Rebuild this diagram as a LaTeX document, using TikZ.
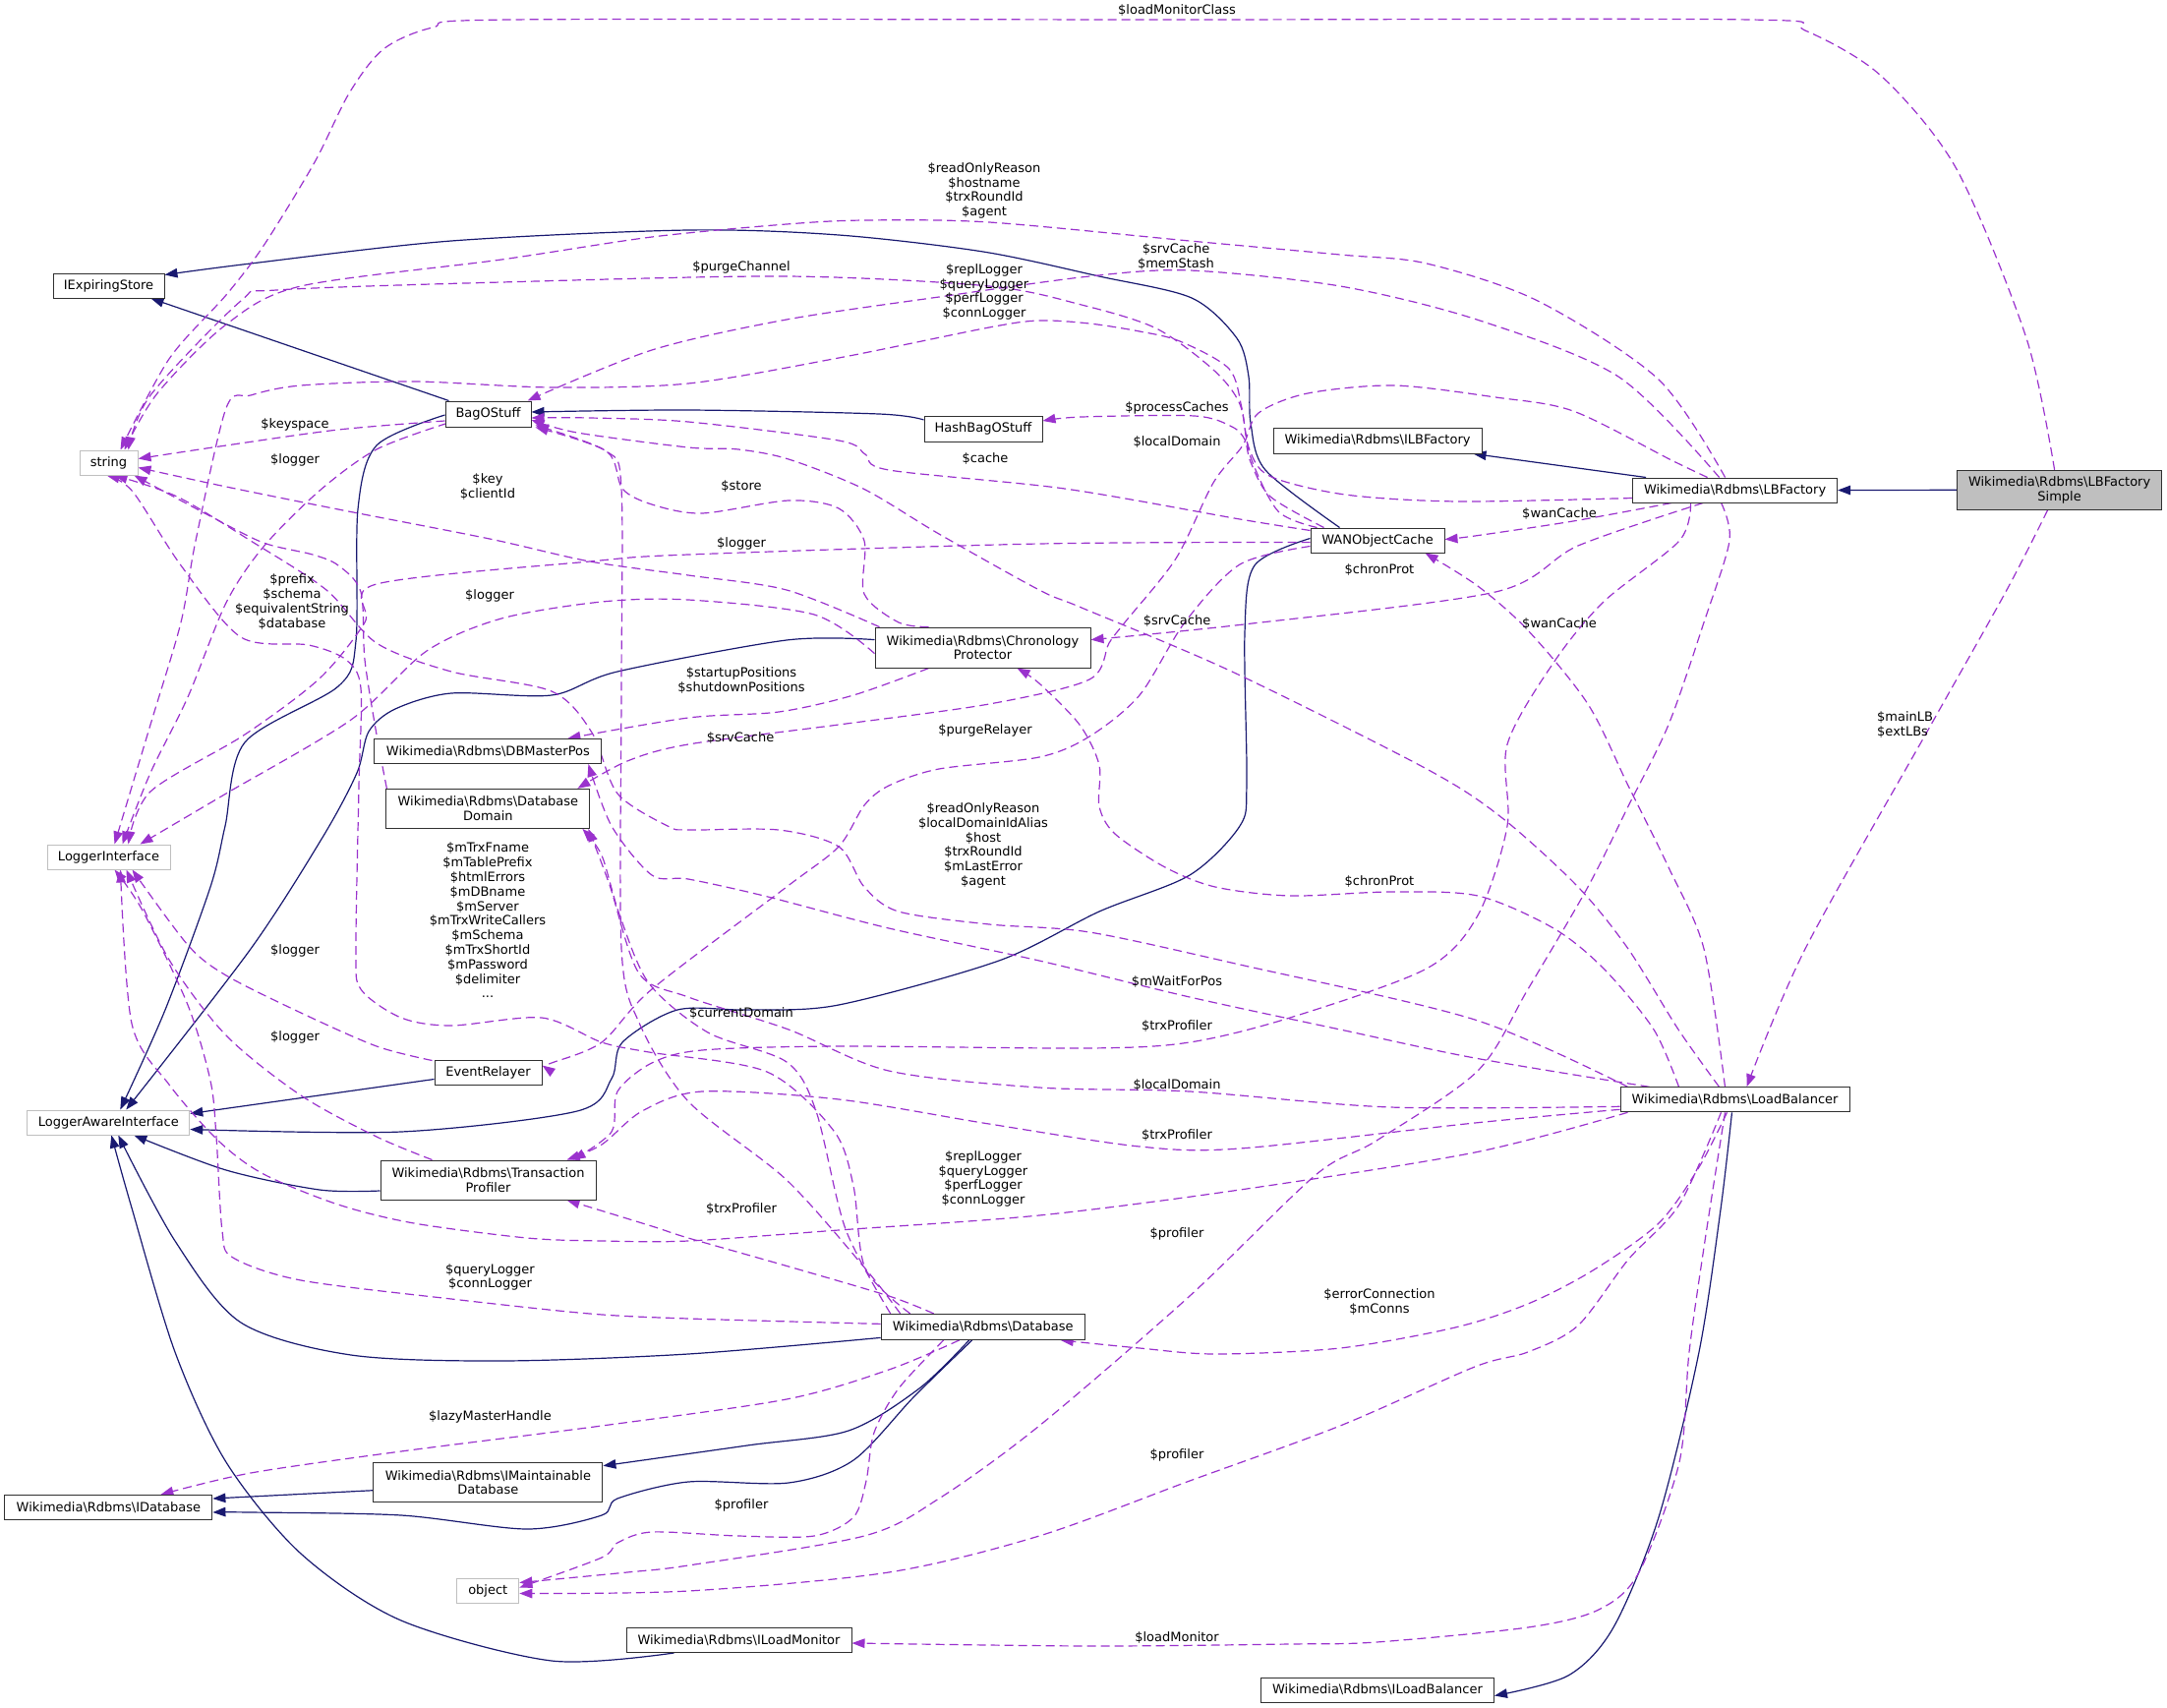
\documentclass[tikz,border=0pt]{standalone}
\usepackage{fontspec}
\setmainfont{DejaVu Sans}
\usetikzlibrary{arrows.meta,calc}
\definecolor{purp}{HTML}{9A32CD}
\definecolor{navyb}{HTML}{191970}
\definecolor{grayb}{HTML}{BFBFBF}
\definecolor{boxb}{HTML}{303030}
\pgfdeclarelayer{bg}
\pgfsetlayers{bg,main}
\newcommand\wrb{Wikimedia\textbackslash Rdbms\textbackslash}
\begin{document}
\begin{tikzpicture}[x=1pt,y=-1pt,
  box/.style={draw=boxb, line width=1pt, fill=white, inner sep=0pt, align=center, font=\fontsize{13}{14.8}\selectfont},
  gbox/.style={box, draw=grayb},
  lbl/.style={inner sep=0pt, align=center, font=\fontsize{13}{14.8}\selectfont},
  iedge/.style={draw=navyb, line width=1.2pt, -{Triangle[length=13pt,width=9.5pt]}},
  uedge/.style={draw=purp, line width=1.2pt, dash pattern=on 9pt off 5pt, -{Triangle[length=13pt,width=9.5pt]}},
]
\useasboundingbox (0,0) rectangle (2204,1737);

% nodes
\node[box, minimum width=113pt, minimum height=25pt] (ies) at (110.5,290.5) {IExpiringStore};
\node[gbox, minimum width=59pt, minimum height=25pt] (str) at (110.5,470.5) {string};
\node[box, minimum width=87pt, minimum height=26pt] (bag) at (496.5,421) {BagOStuff};
\node[box, minimum width=120pt, minimum height=26pt] (hbag) at (1000,436) {HashBagOStuff};
\node[box, minimum width=212pt, minimum height=26pt] (ilbf) at (1401,448) {\wrb ILBFactory};
\node[box, minimum width=208pt, minimum height=25pt] (lbf) at (1764.6,498.5) {\wrb LBFactory};
\node[box, fill=grayb, minimum width=208pt, minimum height=40pt] (lbfs) at (2094.6,498.3) {\wrb LBFactory\\Simple};
\node[box, minimum width=136pt, minimum height=25pt] (wan) at (1401,549.5) {WANObjectCache};
\node[gbox, minimum width=125pt, minimum height=25pt] (li) at (110.5,871.5) {LoggerInterface};
\node[box, minimum width=219pt, minimum height=41pt] (chron) at (999.5,658.6) {\wrb Chronology\\Protector};
\node[box, minimum width=231pt, minimum height=25pt] (dbmp) at (496.4,764) {\wrb DBMasterPos};
\node[box, minimum width=207pt, minimum height=40pt] (dbd) at (496.4,822.4) {\wrb Database\\Domain};
\node[box, minimum width=109pt, minimum height=25pt] (er) at (496.5,1090.5) {EventRelayer};
\node[gbox, minimum width=165pt, minimum height=25pt] (lai) at (110.3,1141.5) {LoggerAwareInterface};
\node[box, minimum width=219pt, minimum height=40pt] (tp) at (496.5,1200) {\wrb Transaction\\Profiler};
\node[box, minimum width=233pt, minimum height=25pt] (lb) at (1764.5,1118.3) {\wrb LoadBalancer};
\node[box, minimum width=207pt, minimum height=26pt] (db) at (999.7,1349.4) {\wrb Database};
\node[box, minimum width=233pt, minimum height=40pt] (imd) at (496.4,1507.7) {\wrb IMaintainable\\Database};
\node[box, minimum width=211pt, minimum height=25pt] (idb) at (110.4,1533) {\wrb IDatabase};
\node[gbox, minimum width=63pt, minimum height=25pt] (obj) at (496.3,1617.5) {object};
\node[box, minimum width=229pt, minimum height=25pt] (ilm) at (751.5,1668) {\wrb ILoadMonitor};
\node[box, minimum width=237pt, minimum height=25pt] (ilb) at (1401,1718.5) {\wrb ILoadBalancer};

\begin{pgfonlayer}{bg}
% inheritance
\draw[iedge] ($(bag.north west)+(4,0)$) -- ($(ies.south east)+(-14,0)$);
\draw[iedge] plot[smooth, tension=0.5] coordinates {($(wan.north west)+(30,0)$) (1287,478) (1272,430) (1270,383) (1258,344) (1212,303) (1118,281) (1000,256) (853,239) (700,234) (459,245) (255,268) ($(ies.east)+(0,-11)$)};
\draw[iedge] plot[smooth, tension=0.5] coordinates {($(hbag.west)+(0,-9)$) (894,421) (700,417) ($(bag.east)+(0,-2)$)};
\draw[iedge] ($(lbf.north west)+(14,0)$) -- ($(ilbf.south east)+(-9,0)$);
\draw[iedge] (lbfs.west) -- (lbf.east);
\draw[iedge] plot[smooth, tension=0.5] coordinates {($(bag.west)+(0,1)$) (383,453) (364,518) (362,652) (344,698) (249,755) (229,840) (214,902) (168,1027) ($(lai.north)+(12,0)$)};
\draw[iedge] plot[smooth, tension=0.5] coordinates {($(chron.west)+(0,-8)$) (800,651) (628,683) (561,707) (459,705) (402,721) (375,744) (363,786) (329,850) (255,965) ($(lai.north)+(18,0)$)};
\draw[iedge] ($(er.west)+(0,7)$) -- ($(lai.east)+(0,-9)$);
\draw[iedge] plot[smooth, tension=0.5] coordinates {($(wan.west)+(0,-2)$) (1276,575) (1266,644) (1268,797) (1261,840) (1210,890) (1118,927) (1016,977) (853,1022) (760,1027) (689,1027) (633,1060) (622,1097) (587,1130) (408,1151) ($(lai.east)+(0,7)$)};
\draw[iedge] plot[smooth, tension=0.5] coordinates {($(tp.west)+(0,11)$) (325,1210) (230,1190) ($(lai.south)+(26,0)$)};
\draw[iedge] plot[smooth, tension=0.5] coordinates {($(db.west)+(0,11)$) (700,1377) (510,1384) (357,1378) (245,1345) (178,1262) ($(lai.south)+(10,0)$)};
\draw[iedge] plot[smooth, tension=0.5] coordinates {($(ilm.south west)+(49,0)$) (561,1689) (408,1648) (306,1580) (230,1487) (178,1375) (133,1225) ($(lai.south)+(3,0)$)};
\draw[iedge] plot[smooth, tension=0.5] coordinates {($(db.south)+(-14,0)$) (935,1412) (863,1455) (760,1470) ($(imd.east)+(0,-17)$)};
\draw[iedge] ($(imd.west)+(0,8)$) -- ($(idb.east)+(0,-9)$);
\draw[iedge] plot[smooth, tension=0.5] coordinates {($(db.south)+(-11,0)$) (930,1420) (868,1485) (802,1508) (700,1507) (628,1524) (612,1541) (536,1555) (408,1541) (255,1538) ($(idb.east)+(0,5)$)};
\draw[iedge] plot[smooth, tension=0.5] coordinates {($(lb.south)+(-3,0)$) (1750,1230) (1728,1375) (1687,1543) (1641,1655) (1595,1704) ($(ilb.east)+(0,6)$)};

% usage
\draw[uedge] plot[smooth, tension=0.5] coordinates {($(lbfs.north)+(-5,0)$) (2061,344) (1990,172) (1913,77) (1836,31) (1780,20) (1197,20) (520,20) (440,28) (390,50) (355,95) (320,165) (268,250) (230,300) (172,365) ($(str.north)+(12,0)$)};
\draw[uedge] plot[smooth, tension=0.5] coordinates {($(lbfs.south)+(-12,0)$) (2041,600) (1964,737) (1836,965) ($(lb.north)+(12,0)$)};
\draw[uedge] plot[smooth, tension=0.5] coordinates {($(lbf.north)+(-10,0)$) (1687,386) (1564,306) (1451,268) (1363,259) (1210,245) (1006,226) (880,224) (800,228) (663,241) (510,264) (306,291) (230,330) (160,400) ($(str.north)+(16,0)$)};
\draw[uedge] plot[smooth, tension=0.5] coordinates {($(lbf.north)+(-16,0)$) (1646,383) (1502,325) (1363,291) (1210,275) (1108,281) (955,302) (800,325) (663,356) ($(bag.north east)+(-4,0)$)};
\draw[uedge] plot[smooth, tension=0.5] coordinates {($(lbf.west)+(0,8)$) (1483,510) (1368,503) (1291,484) (1270,455) (1263,415) (1250,375) (1200,347) (1159,337) (1108,329) (1057,326) (1006,333) (853,364) (700,390) (561,394) (421,388) (306,392) (255,402) (230,415) (199,550) (184,633) (153,737) ($(li.north)+(6,0)$)};
\draw[uedge] plot[smooth, tension=0.5] coordinates {($(wan.north west)+(7,0)$) (1300,520) (1272,465) (1261,411) (1234,376) (1176,334) (1100,310) (1006,291) (800,281) (510,287) (281,295) (245,306) (153,402) ($(str.north)+(20,0)$)};
\draw[uedge] plot[smooth, tension=0.5] coordinates {($(wan.north west)+(14,0)$) (1292,505) (1272,470) (1266,447) (1253,434) (1215,423) (1100,424) ($(hbag.east)+(0,-8)$)};
\draw[uedge] plot[smooth, tension=0.5] coordinates {($(lbf.north)+(-28,0)$) (1700,468) (1600,418) (1521,404) (1418,392) (1330,400) (1280,420) (1264,453) (1234,491) (1196,568) (1144,633) (1128,654) (1108,691) (1006,716) (853,737) (700,757) (638,774) ($(dbd.north east)+(-13,0)$)};
\draw[uedge] plot[smooth, tension=0.5] coordinates {($(wan.west)+(0,-10)$) (1261,528) (1083,497) (904,478) (880,462) (853,448) (700,429) (600,425) ($(bag.east)+(0,4)$)};
\draw[uedge] plot[smooth, tension=0.5] coordinates {($(bag.west)+(0,7)$) (344,437) (230,453) ($(str.east)+(0,-4)$)};
\draw[uedge] plot[smooth, tension=0.5] coordinates {($(bag.south west)+(2,-4)$) (383,457) (325,499) (268,556) (230,613) (191,709) (153,786) ($(li.north)+(14,0)$)};
\draw[uedge] plot[smooth, tension=0.5] coordinates {($(chron.north west)+(5,0)$) (800,600) (700,585) (600,571) (498,548) (344,518) (230,495) ($(str.east)+(0,5)$)};
\draw[uedge] plot[smooth, tension=0.5] coordinates {($(chron.north)+(-55,0)$) (914,633) (879,604) (879,550) (853,517) (802,509) (714,522) (663,513) (633,497) (617,459) ($(bag.south east)+(4,-2)$)};
\draw[uedge] plot[smooth, tension=0.5] coordinates {($(lbf.south west)+(40,0)$) (1600,530) (1500,545) ($(wan.east)+(0,-1)$)};
\draw[uedge] plot[smooth, tension=0.5] coordinates {($(wan.west)+(0,2)$) (1057,553) (700,564) (600,571) (383,594) (371,633) (325,690) (249,747) (153,805) ($(li.north)+(20,0)$)};
\draw[uedge] plot[smooth, tension=0.5] coordinates {($(lbf.south west)+(72,0)$) (1605,555) (1521,602) (1265,635) ($(chron.east)+(0,-8)$)};
\draw[uedge] plot[smooth, tension=0.5] coordinates {($(dbd.north west)+(1,0)$) (383,747) (371,671) (367,602) (344,575) (318,564) (268,552) (214,525) ($(str.south east)+(-4,0)$)};
\draw[uedge] plot[smooth, tension=0.5] coordinates {($(chron.west)+(0,6)$) (828,625) (700,610) (612,612) (510,629) (434,662) (357,732) (230,807) ($(li.north)+(32,0)$)};
\draw[uedge] plot[smooth, tension=0.5] coordinates {($(lb.north)+(-16,0)$) (1707,1047) (1656,965) (1605,902) (1528,832) (1451,782) (1253,683) (1100,618) (1057,600) (955,543) (878,497) (802,467) (751,457) (700,455) (587,440) ($(bag.east)+(0,6)$)};
\draw[uedge] plot[smooth, tension=0.5] coordinates {($(lb.north)+(-10,0)$) (1733,965) (1697,882) (1656,799) (1615,716) (1554,641) (1503,596) ($(wan.south east)+(-20,0)$)};
\draw[uedge] plot[smooth, tension=0.5] coordinates {($(chron.south west)+(55,0)$) (868,707) (792,724) (700,730) ($(dbmp.north east)+(-35,0)$)};
\draw[uedge] plot[smooth, tension=0.5] coordinates {($(wan.west)+(0,6)$) (1261,574) (1205,633) (1159,707) (1108,749) (1057,770) (955,782) (904,799) (879,819) (853,861) (800,902) (663,1006) (612,1060) (561,1081) ($(er.east)+(0,-7)$)};
\draw[uedge] plot[smooth, tension=0.5] coordinates {($(db.north west)+(20,0)$) (880,1290) (800,1200) (700,1120) (650,1040) (632,964) (632,700) (632,497) (617,459) ($(bag.south east)+(4,0)$)};
\draw[uedge] plot[smooth, tension=0.5] coordinates {($(lb.north west)+(8,0)$) (1500,1037) (1261,981) (1108,948) (1006,940) (914,927) (879,902) (853,861) (792,844) (700,844) (679,840) (628,807) (602,745) (561,703) (459,683) (383,654) (332,600) (255,550) (180,505) ($(str.south)+(6,0)$)};
\draw[uedge] plot[smooth, tension=0.5] coordinates {($(db.north west)+(30,0)$) (880,1290) (868,1206) (848,1150) (780,1090) (660,1070) (612,1060) (551,1035) (459,1043) (408,1035) (367,1006) (362,965) (365,800) (367,700) (352,671) (314,656) (245,648) (184,575) (135,500) ($(str.south)+(-2,0)$)};
\draw[uedge] plot[smooth, tension=0.5] coordinates {($(lb.north)+(-57,0)$) (1682,1047) (1631,985) (1580,944) (1503,911) (1414,907) (1312,911) (1236,902) (1185,882) (1134,848) (1118,820) (1118,778) (1098,737) (1057,695) ($(chron.south)+(35,0)$)};
\draw[uedge] plot[smooth, tension=0.5] coordinates {($(er.north west)+(-2,1)$) (383,1064) (306,1030) (230,992) (191,961) ($(li.south)+(24,0)$)};
\draw[uedge] plot[smooth, tension=0.5] coordinates {($(lb.north west)+(30,0)$) (1500,1076) (1363,1047) (1210,1014) (1057,977) (904,944) (777,911) (700,894) (663,890) (622,840) ($(dbmp.south east)+(-14,0)$)};
\draw[uedge] plot[smooth, tension=0.5] coordinates {($(db.north west)+(10,0)$) (860,1250) (830,1130) (800,1080) (720,1050) (660,1000) (630,930) (612,870) ($(dbd.south east)+(-8,0)$)};
\draw[uedge] plot[smooth, tension=0.5] coordinates {($(lbf.south)+(-45,0)$) (1708,550) (1631,612) (1580,674) (1533,757) (1533,840) (1503,931) (1451,985) (1312,1035) (1210,1060) (1108,1066) (853,1064) (714,1068) (663,1081) (628,1110) (622,1151) ($(tp.north east)+(-24,0)$)};
\draw[uedge] plot[smooth, tension=0.5] coordinates {($(tp.north west)+(53,0)$) (383,1156) (306,1114) (230,1053) (172,976) ($(li.south)+(18,0)$)};
\draw[uedge] plot[smooth, tension=0.5] coordinates {($(lb.west)+(0,7)$) (1414,1126) (1210,1110) (1057,1106) (904,1089) (802,1047) (700,1014) (650,990) (620,900) ($(dbd.south east)+(-2,0)$)};
\draw[uedge] plot[smooth, tension=0.5] coordinates {($(lb.west)+(0,10)$) (1500,1142) (1261,1168) (1159,1166) (1006,1143) (853,1118) (714,1110) (653,1130) (612,1164) ($(tp.north east)+(-30,0)$)};
\draw[uedge] plot[smooth, tension=0.5] coordinates {($(lb.south west)+(8,0)$) (1500,1172) (1261,1210) (1057,1236) (853,1251) (700,1262) (612,1262) (536,1259) (421,1244) (344,1225) (268,1194) (222,1160) (172,1103) (134,1041) ($(li.south)+(12,0)$)};
\draw[uedge] plot[smooth, tension=0.5] coordinates {($(db.north west)+(54,0)$) (904,1318) (802,1288) (700,1259) (663,1247) ($(tp.south east)+(-30,0)$)};
\draw[uedge] plot[smooth, tension=0.5] coordinates {($(lbf.south)+(-14,0)$) (1759,550) (1733,633) (1697,737) (1656,820) (1615,902) (1554,1006) (1503,1089) (1400,1160) (1338,1195) (1210,1318) (1057,1450) (955,1524) (879,1562) (700,1592) (638,1599) ($(obj.east)+(0,-8)$)};
\draw[uedge] plot[smooth, tension=0.5] coordinates {($(db.west)+(0,-3)$) (700,1341) (600,1336) (459,1321) (306,1302) (237,1279) (226,1252) (220,1156) (214,1099) (191,1022) (145,926) ($(li.south)+(6,0)$)};
\draw[uedge] plot[smooth, tension=0.5] coordinates {($(lb.south)+(-8,0)$) (1728,1187) (1687,1244) (1620,1292) (1554,1326) (1480,1350) (1363,1371) (1236,1377) (1159,1371) ($(db.south east)+(-25,0)$)};
\draw[uedge] plot[smooth, tension=0.5] coordinates {($(db.south)+(-24,0)$) (904,1393) (800,1423) (612,1450) (408,1476) (255,1498) ($(idb.north east)+(-53,0)$)};
\draw[uedge] plot[smooth, tension=0.5] coordinates {($(lb.south)+(-14,0)$) (1708,1225) (1656,1281) (1605,1348) (1554,1375) (1500,1390) (1363,1450) (1210,1506) (1057,1562) (904,1599) (700,1618) ($(obj.east)+(0,3)$)};
\draw[uedge] plot[smooth, tension=0.5] coordinates {($(db.south)+(-40,0)$) (914,1412) (889,1457) (881,1506) (868,1543) (828,1562) (751,1562) (663,1558) (628,1569) (612,1584) ($(obj.east)+(0,-3)$)};
\draw[uedge] plot[smooth, tension=0.5] coordinates {($(lb.south)+(-10,0)$) (1734,1262) (1718,1375) (1708,1487) (1667,1599) (1626,1637) (1554,1655) (1400,1670) (1312,1672) (1108,1674) ($(ilm.east)+(0,3)$)};
\end{pgfonlayer}

% labels
\node[lbl] (l1) at (1197,11) {\$loadMonitorClass};
\node[lbl, anchor=west, align=left] (l2) at (1909,737) {\$mainLB\\\$extLBs};
\node[lbl] (l3) at (1001,194) {\$readOnlyReason\\\$hostname\\\$trxRoundId\\\$agent};
\node[lbl] (l4) at (1196,261) {\$srvCache\\\$memStash};
\node[lbl] (l5) at (1001,297) {\$replLogger\\\$queryLogger\\\$perfLogger\\\$connLogger};
\node[lbl] (l6) at (754,272) {\$purgeChannel};
\node[lbl] (l7) at (1197,414.5) {\$processCaches};
\node[lbl] (l8) at (1197,450) {\$localDomain};
\node[lbl] (l9) at (1002,467) {\$cache};
\node[lbl] (l10) at (300,432) {\$keyspace};
\node[lbl] (l11) at (300,468) {\$logger};
\node[lbl] (l12) at (496,495) {\$key\\\$clientId};
\node[lbl] (l13) at (754,495) {\$store};
\node[lbl] (l14) at (1586,523) {\$wanCache};
\node[lbl] (l15) at (754,553) {\$logger};
\node[lbl] (l16) at (1403,580) {\$chronProt};
\node[lbl] (l17) at (297,612) {\$prefix\\\$schema\\\$equivalentString\\\$database};
\node[lbl] (l18) at (498,606) {\$logger};
\node[lbl] (l19) at (1197,632) {\$srvCache};
\node[lbl] (l20) at (1586,635) {\$wanCache};
\node[lbl] (l21) at (754,692) {\$startupPositions\\\$shutdownPositions};
\node[lbl] (l22) at (1002,743) {\$purgeRelayer};
\node[lbl] (l23) at (753,751) {\$srvCache};
\node[lbl] (l24) at (1000,860) {\$readOnlyReason\\\$localDomainIdAlias\\\$host\\\$trxRoundId\\\$mLastError\\\$agent};
\node[lbl] (l25) at (496,936) {\$mTrxFname\\\$mTablePrefix\\\$htmlErrors\\\$mDBname\\\$mServer\\\$mTrxWriteCallers\\\$mSchema\\\$mTrxShortId\\\$mPassword\\\$delimiter\\...};
\node[lbl] (l26) at (1403,897) {\$chronProt};
\node[lbl] (l27) at (300,967) {\$logger};
\node[lbl] (l28) at (1197,999) {\$mWaitForPos};
\node[lbl] (l29) at (754,1031) {\$currentDomain};
\node[lbl] (l30) at (1197,1044) {\$trxProfiler};
\node[lbl] (l31) at (300,1055) {\$logger};
\node[lbl] (l32) at (1197,1103.5) {\$localDomain};
\node[lbl] (l33) at (1197,1154.5) {\$trxProfiler};
\node[lbl] (l34) at (1000,1199) {\$replLogger\\\$queryLogger\\\$perfLogger\\\$connLogger};
\node[lbl] (l35) at (754,1230) {\$trxProfiler};
\node[lbl] (l36) at (1197,1254.5) {\$profiler};
\node[lbl] (l37) at (498.5,1299) {\$queryLogger\\\$connLogger};
\node[lbl] (l38) at (1403,1324) {\$errorConnection\\\$mConns};
\node[lbl] (l39) at (498.5,1440.5) {\$lazyMasterHandle};
\node[lbl] (l40) at (1197,1479.5) {\$profiler};
\node[lbl] (l41) at (754,1531) {\$profiler};
\node[lbl] (l42) at (1197,1665) {\$loadMonitor};
\end{tikzpicture}
\end{document}
